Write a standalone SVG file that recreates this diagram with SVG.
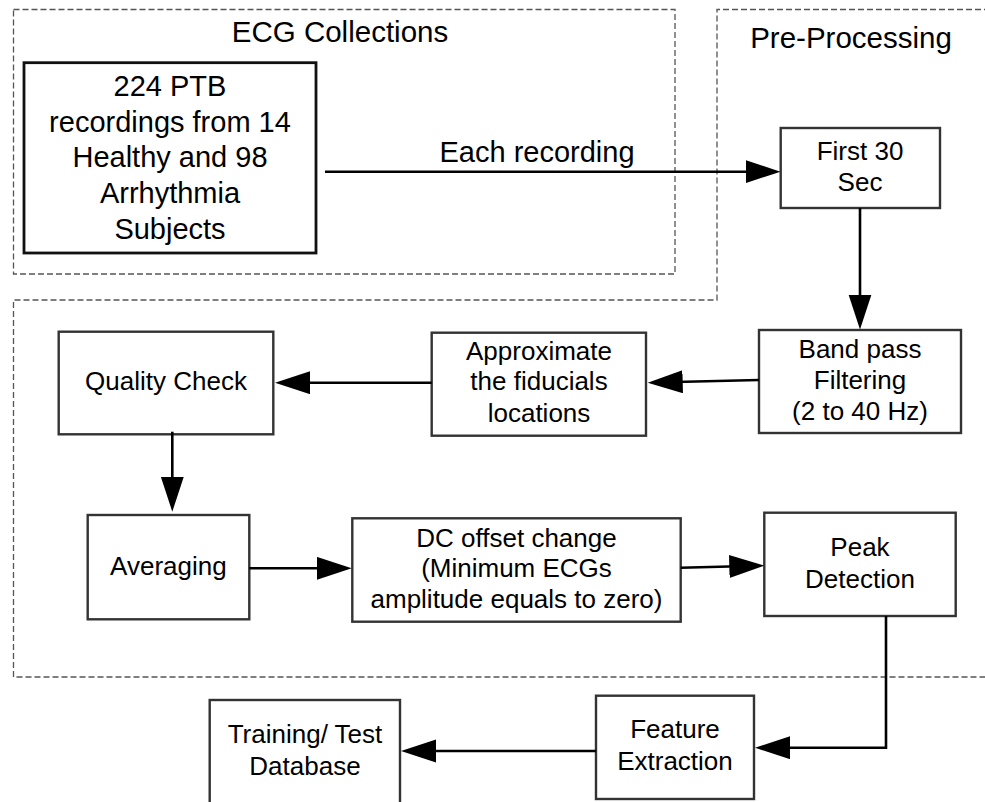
<svg xmlns="http://www.w3.org/2000/svg" width="985" height="802" viewBox="0 0 985 802">
  <style>
    text { font-family: "Liberation Sans", Arial, sans-serif; fill: #000; text-anchor: middle; }
    .title { font-size: 29.5px; }
    .big { font-size: 29px; }
    .lbl { font-size: 26px; }
    .box { fill: #fff; stroke: #333; stroke-width: 2.4; }
    .box-main { fill: #fff; stroke: #111; stroke-width: 2.8; }
    .region { fill: none; stroke: #555; stroke-width: 1.3; stroke-dasharray: 6 3; }
    .conn { fill: none; stroke: #000; stroke-width: 2.6; }
  </style>
  <defs>
    <marker id="arrow" markerUnits="userSpaceOnUse" markerWidth="36" markerHeight="24" refX="29" refY="11.5" orient="auto">
      <path d="M0,0 L35,11.5 L0,23 z" fill="#000"/>
    </marker>
  </defs>

  <rect width="985" height="802" fill="#fff"/>

  <!-- dashed group outlines -->
  <g id="regions">
    <rect class="region" x="13.5" y="9.5" width="661.5" height="264.5"/>
    <text class="title" x="340" y="42">ECG Collections</text>
    <polyline class="region" points="990,9.5 717,9.5 717,300 13.5,300 13.5,677 990,677"/>
    <text class="title" x="851" y="48">Pre-Processing</text>
  </g>

  <g id="ptb">
    <rect class="box-main" x="24" y="62.7" width="292" height="190.3"/>
    <text class="big" x="170" y="96">224 PTB</text>
    <text class="big" x="170" y="132">recordings from 14</text>
    <text class="big" x="170" y="167">Healthy and 98</text>
    <text class="big" x="170" y="203">Arrhythmia</text>
    <text class="big" x="170" y="239">Subjects</text>
  </g>

  <g id="first30">
    <rect class="box" x="780.7" y="128" width="159.3" height="80"/>
    <text class="lbl" x="860" y="160">First 30</text>
    <text class="lbl" x="860" y="191">Sec</text>
  </g>

  <g id="bandpass">
    <rect class="box" x="759" y="330" width="202" height="103"/>
    <text class="lbl" x="860" y="358">Band pass</text>
    <text class="lbl" x="860" y="389">Filtering</text>
    <text class="lbl" x="860" y="420">(2 to 40 Hz)</text>
  </g>

  <g id="approx">
    <rect class="box" x="431.7" y="332.7" width="214.3" height="103"/>
    <text class="lbl" x="539" y="360">Approximate</text>
    <text class="lbl" x="539" y="390">the fiducials</text>
    <text class="lbl" x="539" y="421.7">locations</text>
  </g>

  <g id="quality">
    <rect class="box" x="58.7" y="331.7" width="214.6" height="102.6"/>
    <text class="lbl" x="166" y="390">Quality Check</text>
  </g>

  <g id="averaging">
    <rect class="box" x="87.7" y="515" width="161.6" height="104.3"/>
    <text class="lbl" x="168.4" y="575">Averaging</text>
  </g>

  <g id="dcoffset">
    <rect class="box" x="352.3" y="518.3" width="328.4" height="103.4"/>
    <text class="lbl" x="516.5" y="546.7">DC offset change</text>
    <text class="lbl" x="516.5" y="577.3">(Minimum ECGs</text>
    <text class="lbl" x="516.5" y="608.3">amplitude equals to zero)</text>
  </g>

  <g id="peak">
    <rect class="box" x="764.3" y="512.7" width="191.4" height="103.3"/>
    <text class="lbl" x="860" y="555.7">Peak</text>
    <text class="lbl" x="860" y="587.7">Detection</text>
  </g>

  <g id="feature">
    <rect class="box" x="596" y="695.7" width="158" height="103.3"/>
    <text class="lbl" x="675" y="738">Feature</text>
    <text class="lbl" x="675" y="770">Extraction</text>
  </g>

  <g id="training">
    <rect class="box" x="209.7" y="700" width="190.3" height="115"/>
    <text class="lbl" x="305" y="743.3">Training/ Test</text>
    <text class="lbl" x="305" y="775">Database</text>
  </g>

  <!-- connectors -->
  <g id="connectors">
    <path class="conn" d="M325,171.7 H774.5" marker-end="url(#arrow)"/>
    <text class="big" x="537" y="162">Each recording</text>
    <path class="conn" d="M860,208 V323.5" marker-end="url(#arrow)"/>
    <path class="conn" d="M759,380 L653.7,382.5" marker-end="url(#arrow)"/>
    <path class="conn" d="M431.7,382.7 H281" marker-end="url(#arrow)"/>
    <path class="conn" d="M172.3,431.7 V505.7" marker-end="url(#arrow)"/>
    <path class="conn" d="M249.3,568.3 H345.7" marker-end="url(#arrow)"/>
    <path class="conn" d="M680.7,567.7 L758.3,565.8" marker-end="url(#arrow)"/>
    <path class="conn" d="M886,616 V747.7 H761" marker-end="url(#arrow)"/>
    <path class="conn" d="M596,751 H407" marker-end="url(#arrow)"/>
  </g>
</svg>
